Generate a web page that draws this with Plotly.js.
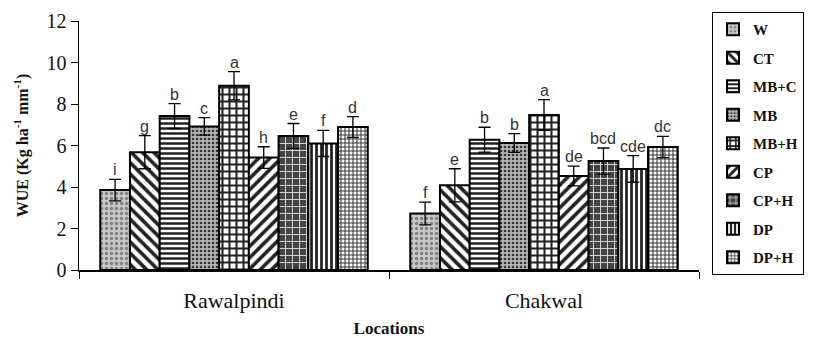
<!DOCTYPE html>
<html>
<head>
<meta charset="utf-8">
<script src="https://cdn.plot.ly/plotly-3.0.1.min.js"></script>
<style>html,body{margin:0;padding:0;background:#fff;}#chart{width:816px;height:338px;}</style>
</head>
<body>
<div id="chart"></div>
<script>
const locations = ["Rawalpindi", "Chakwal"];
const treatments = ["W", "CT", "MB+C", "MB", "MB+H", "CP", "CP+H", "DP", "DP+H"];
// WUE values per treatment: [Rawalpindi, Chakwal]
const wueW    = [3.85, 2.72];
const wueCT   = [5.68, 4.08];
const wueMBC  = [7.42, 6.28];
const wueMB   = [6.92, 6.12];
const wueMBH  = [8.88, 7.47];
const wueCP   = [5.42, 4.53];
const wueCPH  = [6.46, 5.25];
const wueDP   = [6.10, 4.87];
const wueDPH  = [6.89, 5.93];
// error bars
const errW    = [0.52, 0.55];
const errCT   = [0.80, 0.80];
const errMBC  = [0.60, 0.60];
const errMB   = [0.42, 0.45];
const errMBH  = [0.68, 0.74];
const errCP   = [0.52, 0.48];
const errCPH  = [0.60, 0.63];
const errDP   = [0.63, 0.64];
const errDPH  = [0.50, 0.51];
// significance letters
const letW    = ["i", "f"];
const letCT   = ["g", "e"];
const letMBC  = ["b", "b"];
const letMB   = ["c", "b"];
const letMBH  = ["a", "a"];
const letCP   = ["h", "de"];
const letCPH  = ["e", "bcd"];
const letDP   = ["f", "cde"];
const letDPH  = ["d", "dc"];

const values = [wueW, wueCT, wueMBC, wueMB, wueMBH, wueCP, wueCPH, wueDP, wueDPH];
const errs = [errW, errCT, errMBC, errMB, errMBH, errCP, errCPH, errDP, errDPH];
const letters = [letW, letCT, letMBC, letMB, letMBH, letCP, letCPH, letDP, letDPH];

const SERIF = "Liberation Serif";
const SANS = "Liberation Sans";

const patterns = [
  {shape: ".", bgcolor: "#c8c8c8", fgcolor: "#808080", size: 5, solidity: 0.35},
  {shape: "\\", bgcolor: "#ffffff", fgcolor: "#222222", size: 8, solidity: 0.45},
  {shape: "-", bgcolor: "#ffffff", fgcolor: "#222222", size: 5, solidity: 0.5},
  {shape: ".", bgcolor: "#b4b4b4", fgcolor: "#333333", size: 4, solidity: 0.35},
  {shape: "+", bgcolor: "#ffffff", fgcolor: "#222222", size: 7, solidity: 0.5},
  {shape: "/", bgcolor: "#ffffff", fgcolor: "#222222", size: 8, solidity: 0.45},
  {shape: "+", bgcolor: "#444444", fgcolor: "#dddddd", size: 7, solidity: 0.25},
  {shape: "|", bgcolor: "#ffffff", fgcolor: "#222222", size: 5, solidity: 0.55},
  {shape: "+", bgcolor: "#ffffff", fgcolor: "#333333", size: 4, solidity: 0.45}
];

const bargap = 0.137;
const traces = treatments.map((t, i) => ({
  type: "bar",
  name: t,
  x: locations,
  y: values[i],
  legendgroup: "g" + i,
  marker: {
    color: patterns[i].bgcolor,
    line: {color: "#000", width: 2},
    pattern: Object.assign({fillmode: "replace"}, patterns[i])
  },
  error_y: {type: "data", array: errs[i], visible: true, color: "#000", thickness: 1.3, width: 6},
  hoverinfo: "skip"
}));

const n = treatments.length;
const w = (1 - bargap) / n;
const annotations = [];
treatments.forEach((t, i) => {
  locations.forEach((loc, j) => {
    annotations.push({
      x: j + (i - (n - 1) / 2) * w,
      y: values[i][j] + errs[i][j],
      xref: "x", yref: "y",
      text: letters[i][j],
      showarrow: false,
      yanchor: "bottom",
      yshift: 0,
      borderpad: 0,
      font: {family: SANS, size: 16, color: "#333"}
    });
  });
});

const layout = {
  width: 816, height: 338,
  font: {family: SERIF, color: "#111"},
  margin: {l: 79, r: 110, t: 21, b: 68},
  paper_bgcolor: "#fff", plot_bgcolor: "#fff",
  barmode: "group",
  bargap: bargap,
  bargroupgap: 0,
  showlegend: true,
  legend: {
    x: 1.021, y: 1.036, xanchor: "left", yanchor: "top",
    bordercolor: "#000", borderwidth: 1,
    font: {family: SERIF, size: 15, color: "#111", weight: "bold"},
    tracegroupgap: 6,
    itemwidth: 30,
    maxheight: 330,
    bgcolor: "#fff"
  },
  xaxis: {
    type: "category",
    tickson: "boundaries",
    ticks: "outside", ticklen: 7, tickcolor: "#000", tickwidth: 1,
    showline: true, linecolor: "#000", linewidth: 1.5,
    showgrid: false,
    ticklabelstandoff: 10,
    tickfont: {family: SERIF, size: 22, color: "#111"},
    title: {text: "Locations", standoff: 16, font: {family: SERIF, size: 17, color: "#111", weight: "bold"}}
  },
  yaxis: {
    range: [0, 12], dtick: 2,
    ticks: "outside", ticklen: 7, tickcolor: "#000", tickwidth: 1,
    showline: true, linecolor: "#000", linewidth: 1.5,
    showgrid: false, zeroline: false,
    tickfont: {family: SERIF, size: 20, color: "#111"},
    title: {text: "WUE (Kg ha<sup>-1</sup> mm<sup>-1</sup>)", standoff: 14, font: {family: SERIF, size: 16, color: "#111", weight: "bold"}}
  },
  annotations: annotations
};

Plotly.newPlot("chart", traces, layout, {staticPlot: true, displayModeBar: false});
</script>
</body>
</html>
